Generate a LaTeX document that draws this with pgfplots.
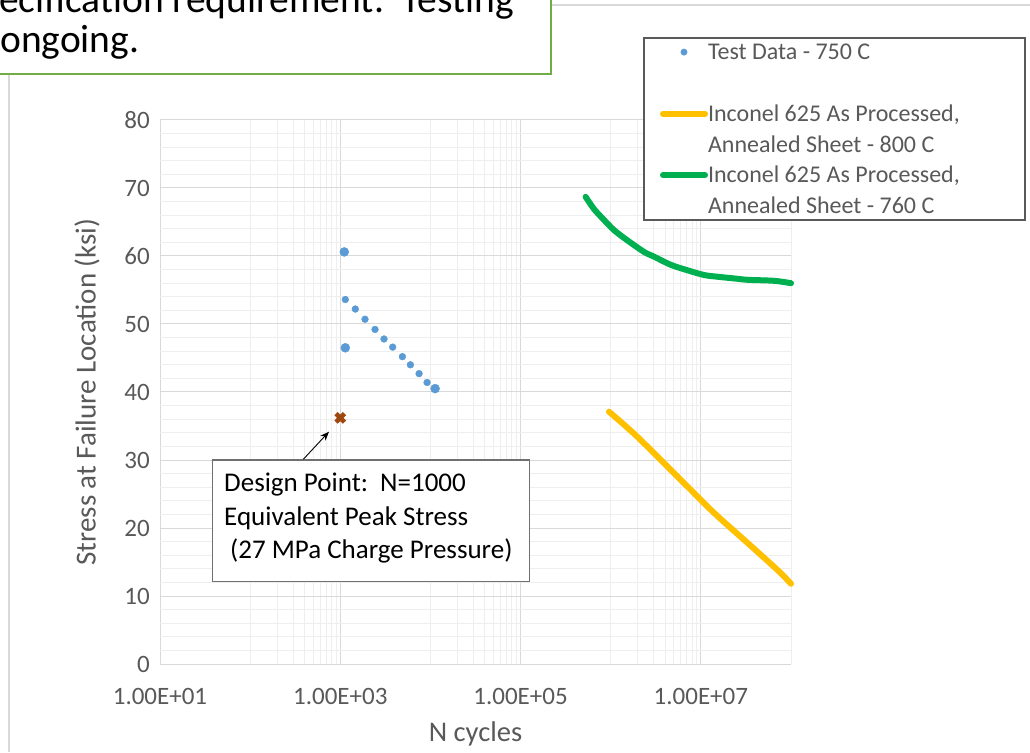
\documentclass[border=0pt]{standalone}
\usepackage{fontspec}
\setmainfont{Carlito}
\usepackage{pgfplots}
\pgfplotsset{compat=1.18}
\usetikzlibrary{arrows.meta}
\definecolor{tdblue}{HTML}{5B9BD5}
\definecolor{incyellow}{HTML}{FFC000}
\definecolor{incgreen}{HTML}{00B050}
\definecolor{dpbrown}{HTML}{9E480E}
\definecolor{txtgray}{HTML}{595959}
\definecolor{gridmaj}{HTML}{D9D9D9}
\definecolor{gridmin}{HTML}{EEEEEE}
\definecolor{boxgreen}{HTML}{70AD47}
\definecolor{legframe}{HTML}{595959}
\definecolor{annframe}{HTML}{707070}

\begin{document}
\begin{tikzpicture}
\useasboundingbox (0,0) rectangle (1030pt,752pt);
\fill[white] (0,0) rectangle (1030pt,752pt);
% chart area border
\draw[gridmaj, line width=1.2pt] (9pt,0pt) -- (9pt,678pt);
\draw[gridmaj, line width=1.2pt] (551pt,747pt) -- (1030pt,747pt);
\begin{axis}[
  at={(160pt,88pt)}, anchor=south west,
  scale only axis, width=631pt, height=544pt,
  xmode=log, xmin=10, xmax=1e8, ymin=0, ymax=80,
  clip=false,
  axis line style={draw=none},
  major tick length=0pt, minor tick length=0pt,
  tick style={draw=none},
  xtick={10,1000,100000,10000000},
  xticklabels={1.00E+01,1.00E+03,1.00E+05,1.00E+07},
  minor xtick={100,200,300,400,500,600,700,800,900,10000,20000,30000,40000,50000,60000,70000,80000,90000,1000000,2000000,3000000,4000000,5000000,6000000,7000000,8000000,9000000,100000000},
  ytick={0,10,20,30,40,50,60,70,80},
  minor y tick num=4,
  grid=both,
  major grid style={draw=gridmaj, line width=1pt},
  minor grid style={draw=gridmin, line width=0.8pt},
  /pgf/number format/assume math mode=true,
  tick label style={font=\fontsize{25}{30}\selectfont, text=txtgray},
  yticklabel style={inner sep=0pt, anchor=east, xshift=-10pt},
  xticklabel style={inner sep=0pt, anchor=north, yshift=-24pt},
  xlabel={N cycles},
  ylabel={Stress at Failure Location (ksi)},
  every axis x label/.style={at={(axis description cs:0.5,-0.1287)}, anchor=center, font=\fontsize{28.5}{33}\selectfont, text=txtgray},
  every axis y label/.style={at={(axis description cs:-0.1157,0.5)}, rotate=90, anchor=center, font=\fontsize{29}{33}\selectfont, text=txtgray},
  legend style={draw=none, fill=none, at={(axis description cs:0.7924,1.1531)}, anchor=north west,
    inner sep=0pt, outer sep=0pt, row sep=0pt, column sep=0pt,
    font=\fontsize{24}{28}\selectfont, text=txtgray,
    nodes={minimum height=30.8pt, inner sep=0pt}},
  legend cell align=left,
  legend image code/.code={\draw[mark repeat=2,mark phase=2,#1] plot coordinates {(0pt,0pt) (21pt,0pt) (42pt,0pt)};},
]
% legend frame
\draw[legframe, line width=1.4pt, fill=white] (axis description cs:0.7670,1.1507) rectangle (axis description cs:1.3708,0.8162);

\addlegendimage{only marks, mark=*, mark size=3.2pt, tdblue}
\addlegendentry{Test Data - 750 C}
\addlegendimage{empty legend}
\addlegendentry{}
\addlegendimage{incyellow, line width=6pt, line cap=round}
\addlegendentry{Inconel 625 As Processed,}
\addlegendimage{empty legend}
\addlegendentry{Annealed Sheet - 800 C}
\addlegendimage{incgreen, line width=6pt, line cap=round}
\addlegendentry{Inconel 625 As Processed,}
\addlegendimage{empty legend}
\addlegendentry{Annealed Sheet - 760 C}

% test data 750 C
\addplot[only marks, mark=*, mark size=3.4pt, tdblue, forget plot] coordinates {
(1137,53.6) (1468,52.2) (1880,50.7) (2428,49.2) (3055,47.8)
(3811,46.6) (4885,45.2) (5995,44.0) (7486,42.7) (9181,41.4)
};
\addplot[only marks, mark=*, mark size=4.5pt, tdblue, forget plot] coordinates {
(1107,60.6) (1137,46.5) (11270,40.5)
};
% Inconel 625, 800 C
\addplot[incyellow, line width=6pt, line cap=round, line join=round, smooth, forget plot] coordinates {
(957000,37.1) (1977000,33.4) (7110000,26.1) (14060000,22.2) (33000000,17.8) (71100000,13.8) (100000000,11.8)
};
% Inconel 625, 760 C
\addplot[incgreen, line width=6pt, line cap=round, line join=round, smooth, forget plot] coordinates {
(527000,68.7) (653000,66.9) (843000,65.3) (1089000,63.8) (1531000,62.3) (2344000,60.6)
(3027000,59.9) (4645000,58.7) (7110000,57.9) (10890000,57.2) (15310000,56.95)
(23440000,56.7) (33000000,56.5) (65300000,56.35) (100000000,56.0)
};
% design point
\addplot[only marks, mark=x, mark size=6pt, line width=4.6pt, dpbrown, forget plot] coordinates {(1000,36.2)};
\end{axis}

% annotation
\draw[annframe, line width=1.3pt, fill=white] (212.7pt,292pt) rectangle (529.3pt,170.3pt);
\begin{scope}[every node/.style={anchor=base west, inner sep=0pt, font=\fontsize{27}{32}\selectfont, text=black}]
\node at (224pt,260pt) {Design Point:\ \ N=1000};
\node at (224pt,226pt) {Equivalent Peak Stress};
\node at (230pt,193pt) {(27 MPa Charge Pressure)};
\end{scope}
\draw[-{Stealth[length=9pt,width=7pt]}, line width=0.9pt] (303.3pt,292.7pt) -- (329pt,320.3pt);

% top text box
\draw[boxgreen, line width=1.5pt] (0pt,678pt) -- (551pt,678pt) -- (551pt,752pt);
\node[anchor=base west, inner sep=0pt, font=\fontsize{39.5}{45}\selectfont] at (-1pt,739pt) {ecification requirement.\ \ Testing};
\node[anchor=base west, inner sep=0pt, font=\fontsize{39.5}{45}\selectfont] at (0pt,699pt) {ongoing.};
\end{tikzpicture}
\end{document}
